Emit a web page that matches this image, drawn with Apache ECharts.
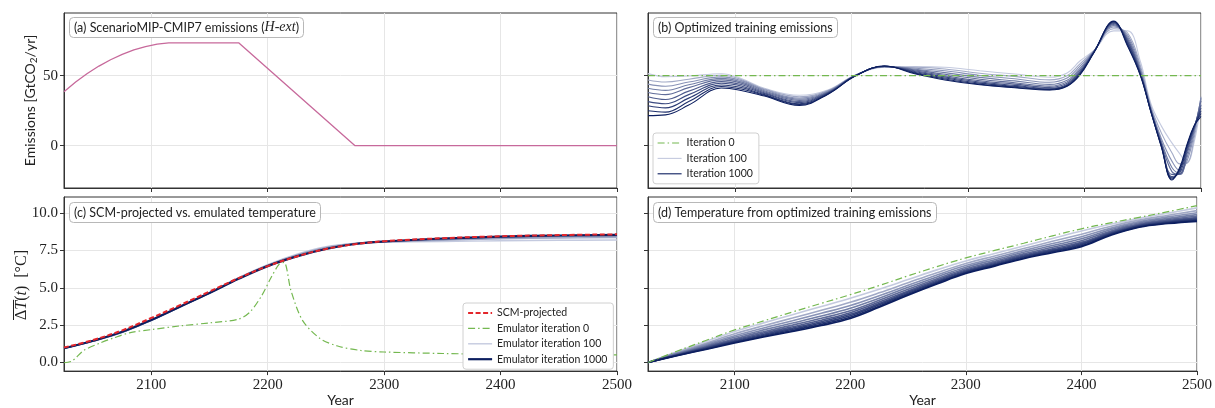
<!DOCTYPE html>
<html>
<head>
<meta charset="utf-8">
<script src="https://cdn.jsdelivr.net/npm/echarts@6/dist/echarts.min.js"></script>
<style>
  html, body { margin: 0; padding: 0; background: #fff; }
  #chart { width: 1215px; height: 408px; }
</style>
</head>
<body>
<div id="chart"></div>
<script>
// ---------------- data ----------------
// (a) ScenarioMIP-CMIP7 H-ext CO2 emissions [GtCO2/yr]
const scenarioYears = [2025, 2035, 2045, 2055, 2065, 2075, 2085, 2095, 2105, 2115, 2175, 2275, 2500];
const scenarioEmissions = [38.5, 45.5, 51.6, 56.9, 61.4, 65.2, 68.4, 70.8, 72.6, 73.5, 73.5, 0, 0];

// (b) optimized training emissions, one curve per saved iteration
const trainIterations = [100, 200, 300, 400, 500, 600, 700, 800, 900, 1000];
const trainYears = [2025, 2040, 2060, 2088, 2105, 2125, 2155, 2180, 2203, 2228, 2255, 2280, 2310, 2340,
                    2370, 2385, 2396, 2408, 2425, 2437, 2448, 2457, 2466, 2475, 2482, 2488, 2494, 2500];
const iter0Years = [2025, 2500];
const iter0Emissions = [50, 50];
const trainEmis100  = [51.5, 49.3, 49.8, 51.4, 48, 41, 36, 40, 50.5, 56, 56.5, 56, 53.5, 51.2, 48.9, 52, 60.5, 68, 82, 82, 60, 30, 14, 2, -6, -12, 2, 30];
const trainEmis200  = [47, 45.5, 47.5, 50.3, 47.3, 40.5, 35, 39.6, 50.4, 56.2, 56, 54.8, 51.8, 49.5, 47, 50, 58.5, 67.8, 83.5, 80.5, 57, 28, 9, -5, -13, -12.5, 5, 33];
const trainEmis300  = [44, 42.5, 45.5, 49.2, 46.5, 40, 34, 39.2, 50.3, 56.4, 55.3, 53.5, 50.2, 47.8, 45.3, 48.3, 56.8, 67.6, 84.8, 79, 55, 26.8, 5, -11, -18, -11, 8, 35];
const trainEmis400  = [41, 39.5, 43.5, 48.1, 45.6, 39.3, 33.2, 38.8, 50.2, 56.5, 54.6, 52.2, 48.8, 46.3, 43.8, 46.8, 55.3, 67.4, 85.8, 77.5, 53.5, 26, 3, -15.5, -20, -8.5, 10, 34];
const trainEmis500  = [38, 36.5, 41.5, 47, 44.7, 38.6, 32.4, 38.4, 50.1, 56.6, 54, 51, 47.5, 45, 42.6, 45.6, 54, 67.2, 86.6, 76.3, 52.5, 25.5, 1.8, -18.5, -20.5, -6, 11.5, 32];
const trainEmis600  = [35, 33, 39, 45.8, 43.7, 37.9, 31.6, 38, 50, 56.7, 53.4, 50, 46.4, 44, 41.7, 44.6, 53, 67, 87.2, 75.2, 51.8, 25, 1, -20.5, -20, -4, 12.5, 29];
const trainEmis700  = [31.5, 30, 36.5, 44.6, 42.7, 37.2, 30.8, 37.8, 50, 56.8, 52.8, 49.2, 45.5, 43.1, 41, 43.8, 52.2, 66.9, 87.8, 74, 51.2, 24.7, 0.3, -22, -19, -2.5, 13, 27];
const trainEmis800  = [28.5, 27, 34, 43.4, 41.6, 36.5, 30, 37.5, 49.9, 56.8, 52.2, 48.4, 44.7, 42.4, 40.5, 43.2, 51.5, 66.8, 88.3, 73, 50.8, 24.4, -0.2, -23, -17.5, -1, 13.5, 25];
const trainEmis900  = [25, 24, 31.5, 42.3, 40.5, 36, 29.4, 37.2, 49.9, 56.9, 51.7, 47.7, 44, 41.8, 40.1, 42.8, 51, 66.6, 88.7, 72, 50.4, 24.2, -0.6, -23.8, -16.2, 0, 13.8, 23];
const trainEmis1000 = [21.5, 22, 29, 41.2, 39.5, 35.5, 28.8, 37, 49.8, 56.9, 51.2, 47, 43.5, 41.4, 39.8, 42.5, 50.5, 66.5, 89, 71, 50, 24, -1, -24.5, -15, 1, 14, 21];

// (c) SCM-projected vs emulated temperature [°C]
const tempYears = [2025, 2050, 2075, 2100, 2125, 2150, 2175, 2200, 2225, 2250, 2275, 2300, 2350, 2400, 2450, 2500];
const scmTemp     = [1.0, 1.5, 2.15, 2.98, 3.85, 4.75, 5.65, 6.45, 7.1, 7.6, 7.92, 8.12, 8.32, 8.45, 8.53, 8.58];
const emuTemp100  = [0.95, 1.42, 2.0, 2.8, 3.72, 4.68, 5.68, 6.55, 7.25, 7.75, 7.98, 8.05, 8.1, 8.15, 8.18, 8.2];
const emuTemp200  = [0.95, 1.43, 2.02, 2.82, 3.73, 4.67, 5.66, 6.52, 7.2, 7.7, 7.97, 8.07, 8.18, 8.28, 8.33, 8.37];
const emuTemp300  = [0.95, 1.44, 2.03, 2.83, 3.74, 4.66, 5.64, 6.5, 7.17, 7.67, 7.96, 8.08, 8.23, 8.35, 8.41, 8.45];
const emuTemp500  = [0.95, 1.45, 2.04, 2.84, 3.75, 4.65, 5.61, 6.47, 7.12, 7.62, 7.94, 8.1, 8.28, 8.41, 8.48, 8.53];
const emuTemp1000 = [0.95, 1.45, 2.05, 2.85, 3.75, 4.65, 5.6, 6.45, 7.1, 7.6, 7.93, 8.1, 8.3, 8.43, 8.5, 8.55];
const emu0Years = [2025, 2032, 2042, 2056, 2068, 2082, 2100, 2125, 2150, 2175, 2185, 2195, 2203, 2210, 2214,
                   2220, 2230, 2245, 2260, 2280, 2300, 2350, 2400, 2450, 2500];
const emu0Temp  = [-0.02, 0.1, 0.8, 1.3, 1.65, 2.0, 2.2, 2.45, 2.65, 2.9, 3.4, 4.5, 5.7, 6.6, 6.7,
                   4.8, 2.8, 1.6, 1.1, 0.8, 0.7, 0.6, 0.55, 0.52, 0.5];

// (d) temperature from optimized training emissions [°C]
const trainTempYears = [2025, 2050, 2075, 2100, 2125, 2150, 2175, 2200, 2225, 2250, 2275, 2300, 2325, 2350, 2375, 2400, 2425, 2450, 2475, 2500];
const trainTemp0    = [0, 0.75, 1.47, 2.18, 2.78, 3.38, 3.96, 4.54, 5.15, 5.8, 6.42, 7.0, 7.5, 7.98, 8.48, 8.95, 9.35, 9.72, 10.1, 10.5];
const trainTemp100  = [0, 0.72, 1.40, 2.07, 2.65, 3.20, 3.75, 4.30, 4.90, 5.55, 6.20, 6.80, 7.30, 7.80, 8.30, 8.80, 9.25, 9.65, 10.00, 10.35];
const trainTemp200  = [0, 0.67, 1.29, 1.92, 2.46, 2.97, 3.49, 4.03, 4.66, 5.34, 6.01, 6.63, 7.13, 7.63, 8.11, 8.59, 9.10, 9.53, 9.86, 10.17];
const trainTemp300  = [0, 0.62, 1.21, 1.79, 2.31, 2.79, 3.29, 3.81, 4.47, 5.17, 5.86, 6.49, 6.99, 7.49, 7.96, 8.42, 8.98, 9.43, 9.75, 10.03];
const trainTemp400  = [0, 0.59, 1.14, 1.69, 2.18, 2.64, 3.11, 3.63, 4.30, 5.03, 5.73, 6.38, 6.88, 7.38, 7.83, 8.28, 8.88, 9.35, 9.65, 9.90];
const trainTemp500  = [0, 0.55, 1.07, 1.59, 2.06, 2.50, 2.96, 3.46, 4.16, 4.90, 5.61, 6.27, 6.77, 7.27, 7.71, 8.15, 8.79, 9.28, 9.57, 9.79];
const trainTemp600  = [0, 0.53, 1.02, 1.52, 1.97, 2.39, 2.83, 3.33, 4.04, 4.79, 5.52, 6.19, 6.69, 7.19, 7.62, 8.04, 8.71, 9.22, 9.50, 9.70];
const trainTemp700  = [0, 0.50, 0.98, 1.45, 1.89, 2.30, 2.73, 3.22, 3.94, 4.71, 5.44, 6.12, 6.62, 7.12, 7.54, 7.96, 8.65, 9.17, 9.44, 9.63];
const trainTemp800  = [0, 0.48, 0.94, 1.40, 1.82, 2.22, 2.64, 3.13, 3.86, 4.64, 5.37, 6.06, 6.56, 7.06, 7.47, 7.89, 8.60, 9.13, 9.39, 9.57];
const trainTemp900  = [0, 0.47, 0.90, 1.35, 1.76, 2.14, 2.55, 3.03, 3.77, 4.56, 5.31, 6.00, 6.50, 7.00, 7.41, 7.81, 8.55, 9.09, 9.34, 9.50];
const trainTemp1000 = [0, 0.45, 0.87, 1.30, 1.70, 2.07, 2.47, 2.95, 3.70, 4.50, 5.25, 5.95, 6.45, 6.95, 7.35, 7.75, 8.50, 9.05, 9.30, 9.45];

// tick positions
const yearTicks = [2100, 2200, 2300, 2400, 2500];
const emissionTicks = [0, 50];
const tempTicks = [0, 2.5, 5, 7.5, 10];

// ---------------- styling ----------------
const SANS = 'Lato, "DejaVu Sans", sans-serif';
const SERIF = '"Liberation Serif", "DejaVu Serif", serif';
const AXIS = '#333333';
const GRIDLINE = '#e6e6e6';
const GREEN = '#74b850';
const RED = '#e3262b';
const PINK = '#c7699b';
const DASHDOT = [7, 3, 1.5, 3];

const trainEmisByIter = [trainEmis100, trainEmis200, trainEmis300, trainEmis400, trainEmis500,
                         trainEmis600, trainEmis700, trainEmis800, trainEmis900, trainEmis1000];
const trainTempByIter = [trainTemp100, trainTemp200, trainTemp300, trainTemp400, trainTemp500,
                         trainTemp600, trainTemp700, trainTemp800, trainTemp900, trainTemp1000];
const emuIterations = [100, 200, 300, 500, 1000];
const emuTempByIter = [emuTemp100, emuTemp200, emuTemp300, emuTemp500, emuTemp1000];

function pairs(xs, ys) { return xs.map((x, i) => [x, ys[i]]); }

// light lavender for early iterations, deep navy for the final one
function iterColor(it) {
  const t = Math.pow((it - 100) / 900, 0.75);
  const light = [196, 202, 223], dark = [12, 30, 95];
  const c = light.map((l, i) => Math.round(l + (dark[i] - l) * t));
  return 'rgb(' + c.join(',') + ')';
}

const grids = [
  { left: 64, top: 13, width: 553, height: 175 },
  { left: 648, top: 13, width: 553, height: 175 },
  { left: 64, top: 197, width: 553, height: 176 },
  { left: 648, top: 197, width: 553, height: 176 }
].map(g => Object.assign({ show: true, borderColor: AXIS, borderWidth: 1, backgroundColor: 'transparent' }, g));

function xAxisFor(gridIndex, withLabels) {
  return {
    type: 'value', gridIndex, min: 2025, max: 2500,
    axisLine: { show: true, onZero: false, lineStyle: { color: AXIS, width: 1 } },
    axisTick: { show: true, inside: false, length: 4, customValues: yearTicks, lineStyle: { color: AXIS, width: 1 } },
    axisLabel: { show: withLabels, customValues: yearTicks, margin: 6, fontFamily: SERIF, fontSize: 15, color: '#222',
                 formatter: v => String(v) },
    splitLine: { show: true, lineStyle: { color: GRIDLINE, width: 1 } },
    name: withLabels ? 'Year' : '', nameLocation: 'middle', nameGap: 21,
    nameTextStyle: { fontFamily: SANS, fontSize: 14, color: '#222', verticalAlign: 'top' }
  };
}

function yAxisFor(gridIndex, lo, hi, ticks, withLabels, fmt, name, nameStyle, nameGap) {
  return {
    type: 'value', gridIndex, min: lo, max: hi,
    axisLine: { show: true, onZero: false, lineStyle: { color: AXIS, width: 1 } },
    axisTick: { show: true, inside: false, length: 4, customValues: ticks, lineStyle: { color: AXIS, width: 1 } },
    axisLabel: { show: withLabels, customValues: ticks, margin: 6, fontFamily: SERIF, fontSize: 15, color: '#222', formatter: fmt },
    splitLine: { show: true, lineStyle: { color: GRIDLINE, width: 1 } },
    name: name || '', nameLocation: 'middle', nameGap: nameGap || 30, nameRotate: 90,
    nameTextStyle: nameStyle || {}
  };
}

const emisName = 'Emissions [GtCO{s|2}/yr]';
const emisNameStyle = {
  fontFamily: SANS, fontSize: 14, color: '#222',
  rich: { s: { fontFamily: SANS, fontSize: 10, color: '#222', padding: [7, 0, 0, 0] } }
};

const EMIS_MIN = -30.2, EMIS_MAX = 94.8;
const TEMP_MIN = -0.58, TEMP_MAX = 11.08;

const series = [];
function addLine(name, xi, yi, xs, ys, color, width, type, z, smooth) {
  series.push({
    name, type: 'line', xAxisIndex: xi, yAxisIndex: yi,
    data: pairs(xs, ys), symbol: 'none', showSymbol: false,
    smooth: smooth === undefined ? 0.4 : smooth,
    lineStyle: { color, width, type: type || 'solid', cap: 'butt' },
    itemStyle: { color },
    z: z || 2, silent: true, animation: false, clip: true
  });
}

// (a) scenario emissions
addLine('H-ext', 0, 0, scenarioYears, scenarioEmissions, PINK, 1.3, 'solid', 3, false);

// (b) training emissions per iteration
trainIterations.forEach((it, k) => {
  addLine('Iteration ' + it, 1, 1, trainYears, trainEmisByIter[k], iterColor(it), 1.1, 'solid', 3 + k * 0.01, 0.4);
});
addLine('Iteration 0', 1, 1, iter0Years, iter0Emissions, GREEN, 1.2, DASHDOT, 4, false);

// (c) SCM temperature and emulator iterations
addLine('Emulator iteration 0', 2, 2, emu0Years, emu0Temp, GREEN, 1.2, DASHDOT, 3, 0.3);
emuIterations.forEach((it, k) => {
  addLine('Emulator iteration ' + it, 2, 2, tempYears, emuTempByIter[k], iterColor(it), it === 1000 ? 2.2 : 1.4, 'solid', 3.1 + k * 0.01, 0.4);
});
addLine('SCM-projected', 2, 2, tempYears, scmTemp, RED, 2, [5, 2.5], 4, 0.4);

// (d) temperature response to each iteration's training emissions
trainIterations.forEach((it, k) => {
  addLine('Training temperature ' + it, 3, 3, trainTempYears, trainTempByIter[k], iterColor(it), 1.6, 'solid', 3 + k * 0.01, 0.4);
});
addLine('Training temperature 0', 3, 3, trainTempYears, trainTemp0, GREEN, 1.2, DASHDOT, 4, 0.4);

function panelTitle(text, left, top, rich) {
  return {
    text, left, top, padding: [3, 5, 3, 5],
    backgroundColor: '#ffffff', borderColor: '#b8b8b8', borderWidth: 1, borderRadius: 4,
    textStyle: { fontFamily: SANS, fontSize: 12.5, fontWeight: 'normal', color: '#222', lineHeight: 15, rich: rich || {} }
  };
}
const mathRich = { m: { fontFamily: SERIF, fontStyle: 'italic', fontSize: 14, color: '#222', lineHeight: 15 } };

const legendBase = {
  orient: 'vertical', backgroundColor: '#ffffff', borderColor: '#d0d0d0', borderWidth: 1, borderRadius: 3,
  itemWidth: 24, itemHeight: 12, itemGap: 3.4, selectedMode: false,
  lineStyle: { width: 'inherit' },
  itemStyle: { opacity: 0 },
  textStyle: { fontFamily: SANS, fontSize: 10.5, color: '#222', lineHeight: 12 }
};

// rotated temperature axis title with an overline over "ΔT"
const TEMP_LABEL_SIZE = 16;
const measureCtx = document.createElement('canvas').getContext('2d');
function textWidth(txt, italic) {
  measureCtx.font = (italic ? 'italic ' : '') + TEMP_LABEL_SIZE + 'px "Liberation Serif"';
  return measureCtx.measureText(txt).width;
}
const labelParts = [['\u0394', false], ['T', true], ['(', false], ['t', true], [')\u2002[\u00b0C]', false]];
const overW = textWidth('\u0394', false) + textWidth('T', true) + 1;
const labelW = labelParts.reduce((s, p) => s + textWidth(p[0], p[1]), 0);
const tempLabelRich = {
  r: { fontFamily: SERIF, fontSize: TEMP_LABEL_SIZE, fill: '#222' },
  i: { fontFamily: SERIF, fontStyle: 'italic', fontSize: TEMP_LABEL_SIZE, fill: '#222' }
};
const tempLabelText = labelParts.map(p => '{' + (p[1] ? 'i' : 'r') + '|' + p[0] + '}').join('');

const option = {
  animation: false,
  backgroundColor: '#ffffff',
  grid: grids,
  xAxis: [xAxisFor(0, false), xAxisFor(1, false), xAxisFor(2, true), xAxisFor(3, true)],
  yAxis: [
    yAxisFor(0, EMIS_MIN, EMIS_MAX, emissionTicks, true, v => String(v), emisName, emisNameStyle, 25),
    yAxisFor(1, EMIS_MIN, EMIS_MAX, emissionTicks, false, v => String(v)),
    yAxisFor(2, TEMP_MIN, TEMP_MAX, tempTicks, true, v => v.toFixed(1)),
    yAxisFor(3, TEMP_MIN, TEMP_MAX, tempTicks, false, v => v.toFixed(1))
  ],
  title: [
    panelTitle('(a) ScenarioMIP-CMIP7 emissions ({m|H-ext})', 69, 17, mathRich),
    panelTitle('(b) Optimized training emissions', 653, 17),
    panelTitle('(c) SCM-projected vs. emulated temperature', 69, 202),
    panelTitle('(d) Temperature from optimized training emissions', 653, 202)
  ],
  legend: [
    Object.assign({}, legendBase, {
      left: 653, top: 133, padding: [4, 6, 4, 4],
      data: ['Iteration 0', 'Iteration 100', 'Iteration 1000']
    }),
    Object.assign({}, legendBase, {
      left: 463, top: 303, padding: [4, 6, 4, 4],
      data: ['SCM-projected', 'Emulator iteration 0', 'Emulator iteration 100', 'Emulator iteration 1000']
    })
  ],
  graphic: [{
    type: 'group', x: 22, y: 285, rotation: Math.PI / 2, silent: true,
    children: [
      { type: 'text', x: -labelW / 2, y: 0,
        style: { text: tempLabelText, rich: tempLabelRich, fill: '#222', align: 'left', verticalAlign: 'middle',
                 fontFamily: SERIF, fontSize: TEMP_LABEL_SIZE } },
      { type: 'line', shape: { x1: -labelW / 2, y1: -8.5, x2: -labelW / 2 + overW, y2: -8.5 },
        style: { stroke: '#222', lineWidth: 1 } }
    ]
  }],
  series
};

const chart = echarts.init(document.getElementById('chart'), null, { renderer: 'canvas' });
chart.setOption(option);
</script>
</body>
</html>
